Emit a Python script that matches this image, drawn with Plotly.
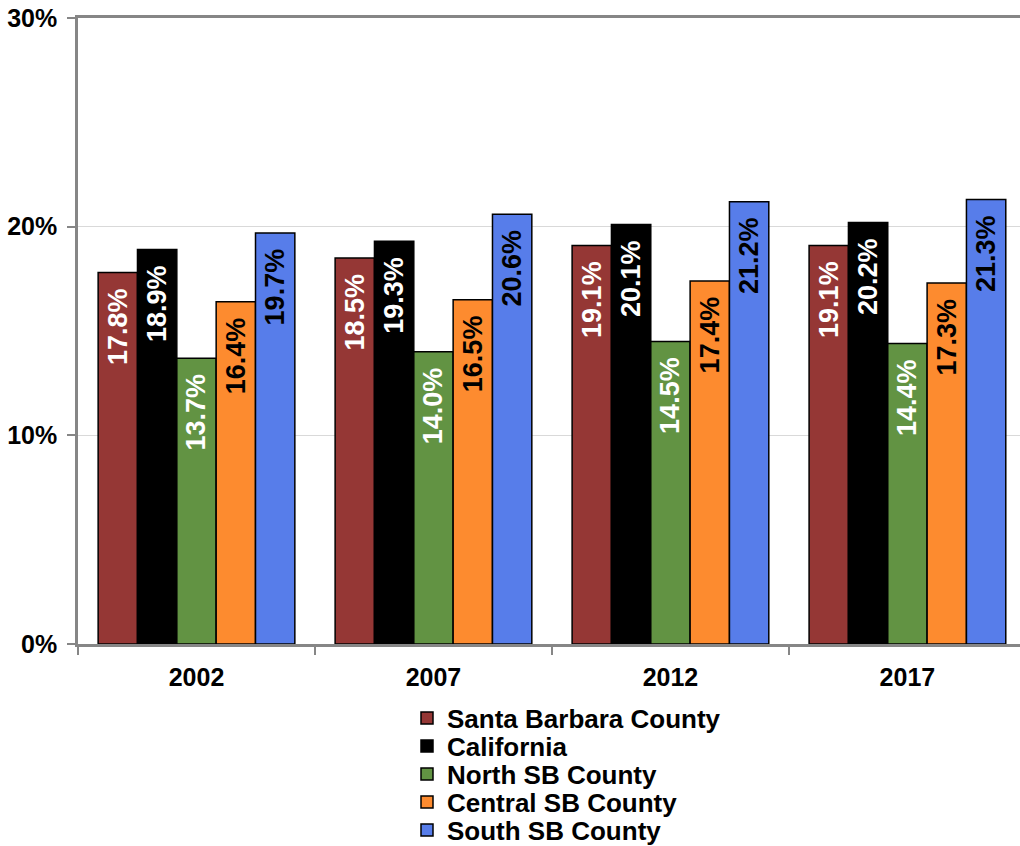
import plotly.graph_objects as go

years = ["2002", "2007", "2012", "2017"]
santa_barbara = [17.8, 18.5, 19.1, 19.1]
california = [18.9, 19.3, 20.1, 20.2]
north_sb = [13.7, 14.0, 14.5, 14.4]
central_sb = [16.4, 16.5, 17.4, 17.3]
south_sb = [19.7, 20.6, 21.2, 21.3]

series = [
    ("Santa Barbara County", santa_barbara, "#953735", "white"),
    ("California", california, "#000000", "white"),
    ("North SB County", north_sb, "#629343", "white"),
    ("Central SB County", central_sb, "#fd8b2f", "black"),
    ("South SB County", south_sb, "#577dea", "black"),
]

FONT = "Liberation Sans, Arial, sans-serif"

# plot area spans 18px..644px vertically; legend rows are centred on these pixel rows
PLOT_TOP, PLOT_BOTTOM = 18, 644
legend_rows = [718, 746, 774, 802, 830]

fig = go.Figure()
for i, (name, vals, color, txtcolor) in enumerate(series):
    fig.add_trace(go.Bar(
        name=name,
        x=years,
        y=vals,
        marker=dict(color=color, line=dict(color="black", width=1.5)),
        # trailing spaces keep the label a little below the bar top
        text=[f"{v:.1f}%\u00a0\u2009" for v in vals],
        textposition="inside",
        insidetextanchor="end",
        textangle=-90,
        textfont=dict(family=FONT, size=27, color=txtcolor, weight="bold"),
        legend="legend" if i == 0 else f"legend{i + 1}",
    ))

legend_x = (407 - 78) / 942
legend_layout = {}
for i, row in enumerate(legend_rows):
    key = "legend" if i == 0 else f"legend{i + 1}"
    legend_layout[key] = dict(
        x=legend_x,
        y=(PLOT_BOTTOM - row) / (PLOT_BOTTOM - PLOT_TOP),
        xanchor="left",
        yanchor="middle",
        font=dict(family=FONT, size=26, color="black", weight="bold"),
        bgcolor="rgba(0,0,0,0)",
        itemwidth=30,
    )

fig.update_layout(
    width=1020,
    height=846,
    margin=dict(l=78, r=0, t=PLOT_TOP, b=846 - PLOT_BOTTOM, autoexpand=False),
    paper_bgcolor="white",
    plot_bgcolor="white",
    barmode="group",
    bargap=0.17,
    bargroupgap=0,
    font=dict(family=FONT, size=22, color="black", weight="bold"),
    xaxis=dict(
        range=[-0.5, 3.475],
        showline=True,
        linecolor="#868686",
        linewidth=2.5,
        mirror=True,
        ticks="outside",
        tickson="boundaries",
        ticklen=8,
        tickwidth=2,
        tickcolor="#868686",
        ticklabelstandoff=9,
        tickfont=dict(family=FONT, size=25, color="black", weight="bold"),
        showgrid=False,
    ),
    yaxis=dict(
        range=[0, 30],
        dtick=10,
        ticksuffix="%",
        showline=True,
        linecolor="#868686",
        linewidth=2.5,
        ticks="outside",
        ticklen=8,
        tickwidth=2,
        tickcolor="#868686",
        ticklabelstandoff=5,
        showgrid=True,
        gridcolor="#d9d9d9",
        gridwidth=1,
        zeroline=False,
        tickfont=dict(family=FONT, size=25, color="black", weight="bold"),
    ),
    showlegend=True,
    **legend_layout,
)

fig.write_html("out.html")
